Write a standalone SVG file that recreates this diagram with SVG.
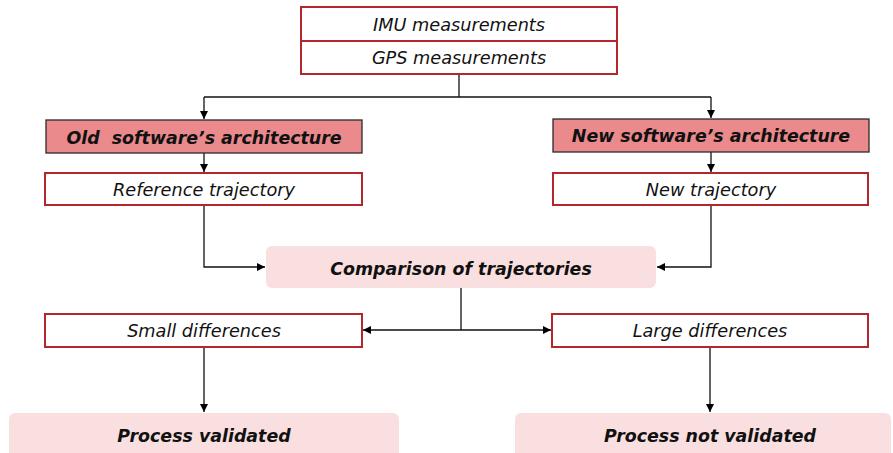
<svg xmlns="http://www.w3.org/2000/svg" width="893" height="453" viewBox="0 0 893 453">
  <defs>
    <marker id="arrow" viewBox="0 0 10 10" refX="10" refY="5" markerWidth="8" markerHeight="8" markerUnits="userSpaceOnUse" orient="auto">
      <path d="M0,0 L10,5 L0,10 z" fill="#000"/>
    </marker>
    <style>
      .box { fill: #fff; stroke: #b3262b; stroke-width: 2; }
      .head { fill: #ea8a8c; stroke: #2a2a2a; stroke-width: 1.3; }
      .soft { fill: #fadfe0; stroke: none; }
      .t { font-family: "DejaVu Sans", Verdana, sans-serif; font-size: 17.7px; font-style: italic; fill: #111; text-anchor: middle; dominant-baseline: central; }
      .b { font-weight: bold; font-size: 17.4px; }
      .wire { fill: none; stroke: #111; stroke-width: 1.3; }
    </style>
  </defs>

  <rect width="893" height="453" fill="#fff"/>

  <g id="connectors">
    <path class="wire" d="M459,74 V97"/>
    <path class="wire" d="M204,97 H711"/>
    <path class="wire" d="M204,97 V119" marker-end="url(#arrow)"/>
    <path class="wire" d="M711,97 V118" marker-end="url(#arrow)"/>
    <path class="wire" d="M204,153 V172" marker-end="url(#arrow)"/>
    <path class="wire" d="M711,152 V172" marker-end="url(#arrow)"/>
    <path class="wire" d="M204,205 V267 H265" marker-end="url(#arrow)"/>
    <path class="wire" d="M711,205 V267 H657" marker-end="url(#arrow)"/>
    <path class="wire" d="M461,288 V330"/>
    <path class="wire" d="M461,330 H363" marker-end="url(#arrow)"/>
    <path class="wire" d="M461,330 H551" marker-end="url(#arrow)"/>
    <path class="wire" d="M204,347 V412" marker-end="url(#arrow)"/>
    <path class="wire" d="M710,347 V412" marker-end="url(#arrow)"/>
  </g>

  <g id="inputs">
    <rect class="box" x="301" y="7" width="316" height="67"/>
    <line x1="301" y1="41" x2="617" y2="41" stroke="#b3262b" stroke-width="2"/>
    <text class="t" x="459" y="25">IMU measurements</text>
    <text class="t" x="459" y="58">GPS measurements</text>
  </g>

  <g id="old-arch">
    <rect class="head" x="46" y="120" width="316" height="33"/>
    <text class="t b" x="204" y="138" xml:space="preserve">Old  software’s architecture</text>
  </g>

  <g id="new-arch">
    <rect class="head" x="553" y="119" width="316" height="33"/>
    <text class="t b" x="711" y="136">New software’s architecture</text>
  </g>

  <g id="ref-traj">
    <rect class="box" x="45" y="173" width="317" height="32"/>
    <text class="t" x="204" y="190">Reference trajectory</text>
  </g>

  <g id="new-traj">
    <rect class="box" x="553" y="173" width="315" height="32"/>
    <text class="t" x="711" y="190">New trajectory</text>
  </g>

  <g id="comparison">
    <rect class="soft" x="266" y="246" width="390" height="42" rx="6"/>
    <text class="t b" x="461" y="269">Comparison of trajectories</text>
  </g>

  <g id="small-diff">
    <rect class="box" x="45" y="314" width="317" height="33"/>
    <text class="t" x="204" y="331">Small differences</text>
  </g>

  <g id="large-diff">
    <rect class="box" x="552" y="314" width="316" height="33"/>
    <text class="t" x="710" y="331">Large differences</text>
  </g>

  <g id="validated">
    <rect class="soft" x="9" y="413" width="390" height="48" rx="6"/>
    <text class="t b" x="204" y="436">Process validated</text>
  </g>

  <g id="not-validated">
    <rect class="soft" x="515" y="413" width="376" height="48" rx="6"/>
    <text class="t b" x="710" y="436">Process not validated</text>
  </g>
</svg>
